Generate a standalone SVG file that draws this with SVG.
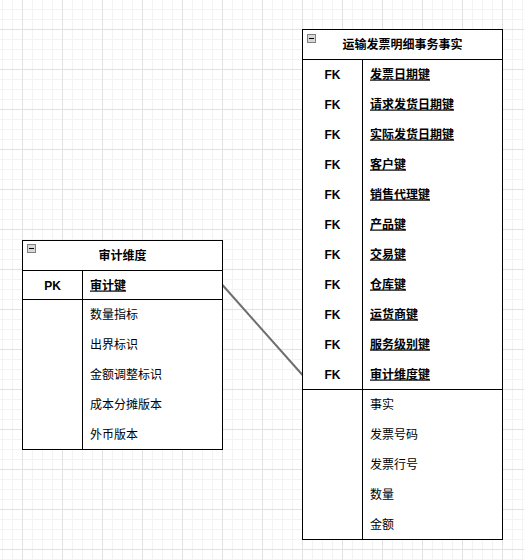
<svg xmlns="http://www.w3.org/2000/svg" width="524" height="560" viewBox="0 0 524 560">
<defs>
<pattern id="minor" width="10" height="10" patternUnits="userSpaceOnUse" x="2" y="9">
<path d="M0.5 0V10M0 0.5H10" stroke="#f3f3f3" stroke-width="1" fill="none"/>
</pattern>
<pattern id="major" width="40" height="40" patternUnits="userSpaceOnUse" x="22" y="29">
<path d="M0.5 0V40M0 0.5H40" stroke="#e2e2e2" stroke-width="1" fill="none"/>
</pattern>
<g id="toggle">
<rect x="0.5" y="0.5" width="8" height="8" fill="#d8d8d8" stroke="#808080"/>
<path d="M2 4.5H7" stroke="#000" stroke-width="1"/>
</g>
</defs>
<style>
.box{fill:#fff;stroke:#000;stroke-width:1}
.ln{stroke:#000;stroke-width:1;fill:none}
.h{font-family:"Noto Sans CJK SC","Liberation Sans",sans-serif;font-size:12px;font-weight:bold;fill:#000;text-anchor:middle}
.k{font-family:"Liberation Sans","Noto Sans CJK SC",sans-serif;font-size:12px;font-weight:bold;fill:#000;text-anchor:middle}
.kn{font-family:"Noto Sans CJK SC","Liberation Sans",sans-serif;font-size:12px;font-weight:bold;fill:#000;text-decoration:underline}
.a{font-family:"Noto Sans CJK SC","Liberation Sans",sans-serif;font-size:12px;fill:#000}
</style>
<rect width="524" height="560" fill="#fff"/>
<rect width="524" height="560" fill="url(#minor)"/>
<rect width="524" height="560" fill="url(#major)"/>

<g id="connectors">
<line x1="222.5" y1="285" x2="302.5" y2="375" stroke="#6e6e6e" stroke-width="2"/>
</g>

<g id="audit-dim">
<rect class="box" x="22.5" y="240.5" width="200" height="209"/>
<line class="ln" x1="22.5" y1="270.5" x2="222.5" y2="270.5"/>
<line class="ln" x1="22.5" y1="299.5" x2="222.5" y2="299.5"/>
<line class="ln" x1="82.5" y1="270.5" x2="82.5" y2="449.5"/>
<use href="#toggle" x="27" y="244"/>
<text class="h" x="122.5" y="259.5">审计维度</text>
<text class="k" x="52.5" y="289.5">PK</text>
<text class="kn" x="90" y="289.5">审计键</text>
<text class="a" x="90" y="318.5">数量指标</text>
<text class="a" x="90" y="348.5">出界标识</text>
<text class="a" x="90" y="378.5">金额调整标识</text>
<text class="a" x="90" y="408.5">成本分摊版本</text>
<text class="a" x="90" y="438.5">外币版本</text>
</g>

<g id="shipment-fact">
<rect class="box" x="302.5" y="29.5" width="200" height="510"/>
<line class="ln" x1="302.5" y1="59.5" x2="502.5" y2="59.5"/>
<line class="ln" x1="302.5" y1="389.5" x2="502.5" y2="389.5"/>
<line class="ln" x1="362.5" y1="59.5" x2="362.5" y2="539.5"/>
<use href="#toggle" x="307" y="34"/>
<text class="h" x="402.5" y="48.5">运输发票明细事务事实</text>
<text class="k" x="332.5" y="78.5">FK</text><text class="kn" x="370" y="78.5">发票日期键</text>
<text class="k" x="332.5" y="108.5">FK</text><text class="kn" x="370" y="108.5">请求发货日期键</text>
<text class="k" x="332.5" y="138.5">FK</text><text class="kn" x="370" y="138.5">实际发货日期键</text>
<text class="k" x="332.5" y="168.5">FK</text><text class="kn" x="370" y="168.5">客户键</text>
<text class="k" x="332.5" y="198.5">FK</text><text class="kn" x="370" y="198.5">销售代理键</text>
<text class="k" x="332.5" y="228.5">FK</text><text class="kn" x="370" y="228.5">产品键</text>
<text class="k" x="332.5" y="258.5">FK</text><text class="kn" x="370" y="258.5">交易键</text>
<text class="k" x="332.5" y="288.5">FK</text><text class="kn" x="370" y="288.5">仓库键</text>
<text class="k" x="332.5" y="318.5">FK</text><text class="kn" x="370" y="318.5">运货商键</text>
<text class="k" x="332.5" y="348.5">FK</text><text class="kn" x="370" y="348.5">服务级别键</text>
<text class="k" x="332.5" y="378.5">FK</text><text class="kn" x="370" y="378.5">审计维度键</text>
<text class="a" x="370" y="408.5">事实</text>
<text class="a" x="370" y="438.5">发票号码</text>
<text class="a" x="370" y="468.5">发票行号</text>
<text class="a" x="370" y="498.5">数量</text>
<text class="a" x="370" y="528.5">金额</text>
</g>
</svg>
